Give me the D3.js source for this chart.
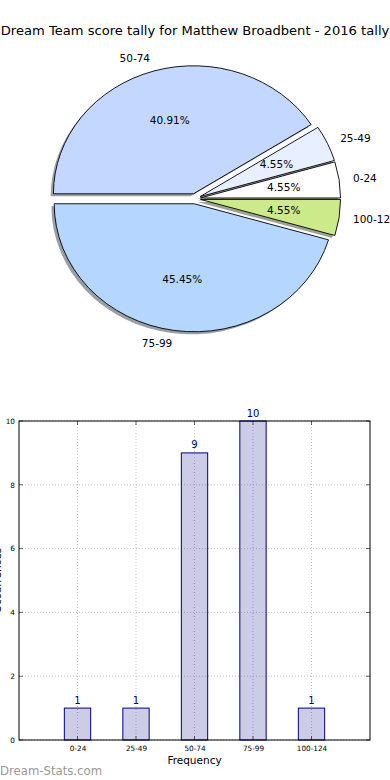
<!DOCTYPE html>
<html>
<head>
<meta charset="utf-8">
<script src="https://cdn.jsdelivr.net/npm/d3@7/dist/d3.min.js"></script>
<style>
  html, body { margin: 0; padding: 0; background: #fff; }
  svg { display: block; font-family: "DejaVu Sans", sans-serif; }
</style>
</head>
<body>
<svg id="chart" width="390" height="780"></svg>
<script>
// ---- data ----
const title = "Dream Team score tally for Matthew Broadbent - 2016 tally";
const categories = ["0-24", "25-49", "50-74", "75-99", "100-124"];
const counts = [1, 1, 9, 10, 1];
const pieColors = ["#ffffff", "#e8f0ff", "#c4d8ff", "#b4d6ff", "#cdea8a"];
const yTicks = [0, 2, 4, 6, 8, 10];
const xLabel = "Frequency";
const yLabel = "Occurrences";
const watermark = "Dream-Stats.com";

const svg = d3.select("#chart");

// ---- title ----
svg.append("text")
  .attr("x", 195).attr("y", 34.5)
  .attr("text-anchor", "middle")
  .attr("font-size", 13.1)
  .attr("fill", "#000")
  .text(title);

// ---- pie ----
const cx = 195, cy = 198.7, rx = 140, ry = 128, explode = 0.04;
const total = d3.sum(counts);
const pieData = d3.pie().sort(null)
  .startAngle(Math.PI / 2)
  .endAngle(Math.PI / 2 - 2 * Math.PI)(counts);
const arc = d3.arc().innerRadius(0).outerRadius(100);

const pieG = svg.append("g");
const geo = pieData.map((d, i) => {
  const m = (d.startAngle + d.endAngle) / 2;
  const sx = Math.sin(m), sy = -Math.cos(m);
  return { d, i, sx, sy, ox: cx + sx * explode * rx, oy: cy + sy * explode * ry };
});

// shadows first
pieG.selectAll("path.shadow").data(geo).enter().append("path")
  .attr("class", "shadow")
  .attr("transform", g => `translate(${g.ox - 0.02 * rx},${g.oy + 0.02 * ry}) scale(${rx / 100},${ry / 100})`)
  .attr("d", g => arc(g.d))
  .attr("fill", g => { const c = d3.rgb(pieColors[g.i]); return d3.rgb(c.r * 0.3, c.g * 0.3, c.b * 0.3); })
  .attr("fill-opacity", 0.5)
  .attr("stroke", "none");

pieG.selectAll("path.wedge").data(geo).enter().append("path")
  .attr("class", "wedge")
  .attr("transform", g => `translate(${g.ox},${g.oy}) scale(${rx / 100},${ry / 100})`)
  .attr("d", g => arc(g.d))
  .attr("fill", g => pieColors[g.i])
  .attr("stroke", "#000")
  .attr("stroke-width", 0.9)
  .attr("vector-effect", "non-scaling-stroke");

pieG.selectAll("text.lbl").data(geo).enter().append("text")
  .attr("class", "lbl")
  .attr("x", g => g.ox + 1.1 * rx * g.sx)
  .attr("y", g => g.oy + 1.1 * ry * g.sy)
  .attr("dy", "0.35em")
  .attr("text-anchor", g => g.sx > 0 ? "start" : "end")
  .attr("font-size", 10.5)
  .text(g => categories[g.i]);

pieG.selectAll("text.pct").data(geo).enter().append("text")
  .attr("class", "pct")
  .attr("x", g => g.ox + 0.6 * rx * g.sx)
  .attr("y", g => g.oy + 0.6 * ry * g.sy)
  .attr("dy", "0.35em")
  .attr("text-anchor", "middle")
  .attr("font-size", 10.5)
  .text(g => (counts[g.i] / total * 100).toFixed(2) + "%");

// ---- bar chart ----
const L = 19, R = 370, T = 421, B = 740;
const x = d3.scaleLinear().domain([-1, 5]).range([L, R]);
const y = d3.scaleLinear().domain([0, 10]).range([B, T]);
const barW = 0.45;
const bg = svg.append("g");

// grid
bg.selectAll("line.gx").data(categories).enter().append("line")
  .attr("x1", (d, i) => x(i)).attr("x2", (d, i) => x(i))
  .attr("y1", T).attr("y2", B)
  .attr("stroke", "#b5b5b5").attr("stroke-width", 0.8).attr("stroke-dasharray", "1,2");
bg.selectAll("line.gy").data(yTicks).enter().append("line")
  .attr("x1", L).attr("x2", R)
  .attr("y1", d => y(d)).attr("y2", d => y(d))
  .attr("stroke", "#b5b5b5").attr("stroke-width", 0.8).attr("stroke-dasharray", "1,2");

// bars
bg.selectAll("rect.bar").data(counts).enter().append("rect")
  .attr("x", (d, i) => x(i - barW / 2))
  .attr("y", d => y(d))
  .attr("width", x(barW) - x(0))
  .attr("height", d => B - y(d))
  .attr("fill", "#000080").attr("fill-opacity", 0.2)
  .attr("stroke", "#000080").attr("stroke-width", 1);

// value labels
bg.selectAll("text.val").data(counts).enter().append("text")
  .attr("x", (d, i) => x(i))
  .attr("y", d => y(d) - 4.5)
  .attr("text-anchor", "middle")
  .attr("font-size", 10)
  .attr("fill", "#000080")
  .text(d => d);

// axes via d3
const yAxisL = d3.axisLeft(y).tickValues(yTicks).tickSize(0).tickPadding(4).tickFormat(d3.format("d"));
const gyl = bg.append("g").attr("transform", `translate(${L},0)`).call(yAxisL);
gyl.select(".domain").remove();
gyl.selectAll("text").attr("font-size", 7.3).attr("font-family", "DejaVu Sans").attr("fill", "#000");

const xAxisB = d3.axisBottom(x).tickValues(d3.range(categories.length)).tickSize(0).tickPadding(6)
  .tickFormat(i => categories[i]);
const gxb = bg.append("g").attr("transform", `translate(0,${B})`).call(xAxisB);
gxb.select(".domain").remove();
gxb.selectAll("text").attr("font-size", 7.3).attr("font-family", "DejaVu Sans").attr("fill", "#000");

// inward tick marks
const tk = 4;
yTicks.forEach(v => {
  bg.append("line").attr("x1", L).attr("x2", L + tk).attr("y1", y(v)).attr("y2", y(v)).attr("stroke", "#000").attr("stroke-width", 0.6);
  bg.append("line").attr("x1", R).attr("x2", R - tk).attr("y1", y(v)).attr("y2", y(v)).attr("stroke", "#000").attr("stroke-width", 0.6);
});
categories.forEach((c, i) => {
  bg.append("line").attr("x1", x(i)).attr("x2", x(i)).attr("y1", B).attr("y2", B - tk).attr("stroke", "#000").attr("stroke-width", 0.6);
  bg.append("line").attr("x1", x(i)).attr("x2", x(i)).attr("y1", T).attr("y2", T + tk).attr("stroke", "#000").attr("stroke-width", 0.6);
});

// frame
bg.append("rect").attr("x", L).attr("y", T).attr("width", R - L).attr("height", B - T)
  .attr("fill", "none").attr("stroke", "#000").attr("stroke-width", 1);

// axis labels
svg.append("text").attr("x", (L + R) / 2).attr("y", 764)
  .attr("text-anchor", "middle").attr("font-size", 10.5).text(xLabel);
svg.append("text")
  .attr("transform", `translate(1,${(T + B) / 2}) rotate(-90)`)
  .attr("text-anchor", "middle").attr("font-size", 10.5).text(yLabel);

// watermark
svg.append("text").attr("x", 0).attr("y", 775)
  .attr("font-size", 11.7).attr("font-weight", 500).attr("fill", "#999").text(watermark);
</script>
</body>
</html>
